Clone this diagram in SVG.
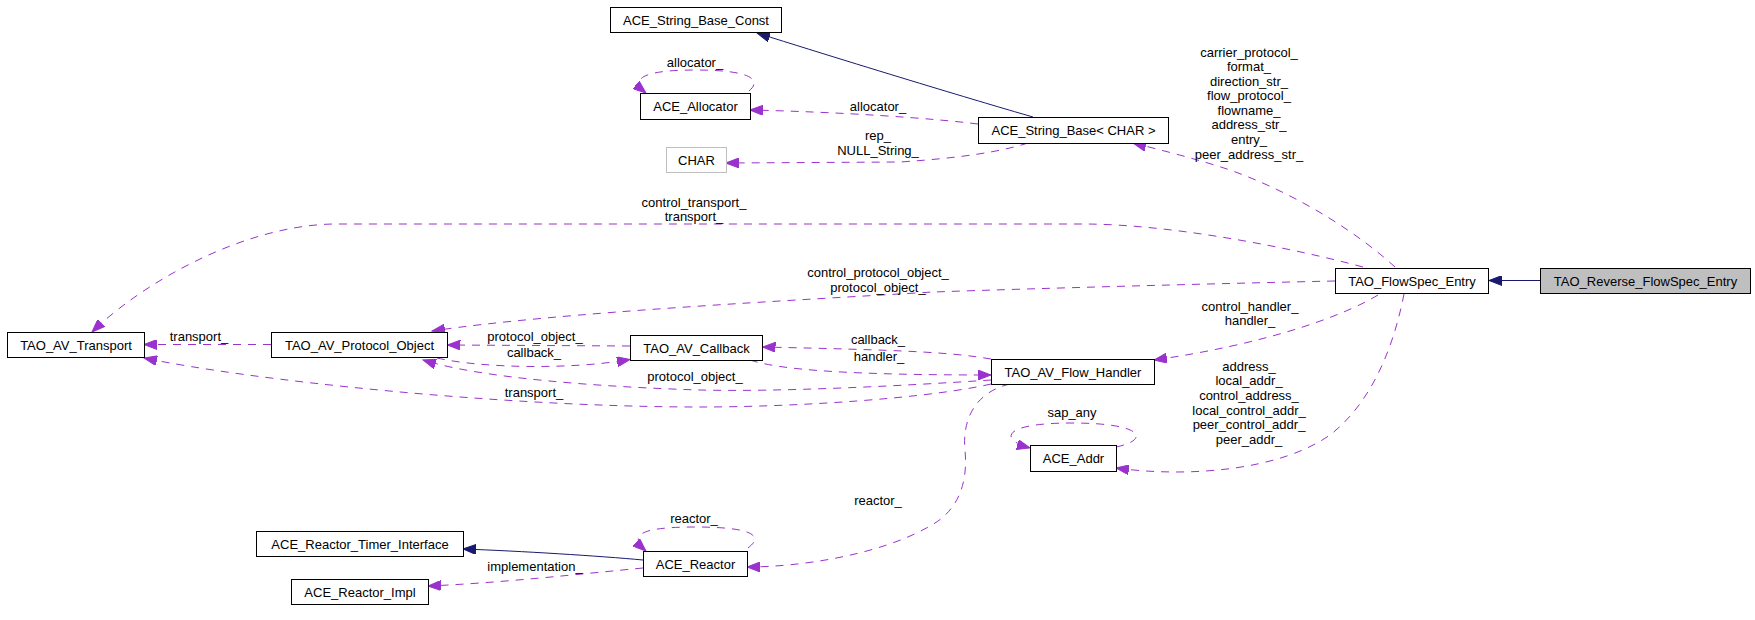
<svg xmlns="http://www.w3.org/2000/svg" width="1755" height="620" viewBox="0 0 1755 620">
<style>
  .node rect { fill: #ffffff; stroke: #000000; stroke-width: 1; }
  .node text, .lbl { font-family: "Liberation Sans", Arial, sans-serif; font-size: 13px; fill: #000000; text-anchor: middle; }
  .e { fill: none; stroke: #9a32cd; stroke-width: 1; stroke-dasharray: 8,7; marker-end: url(#ap); }
  .i { fill: none; stroke: #191970; stroke-width: 1; marker-end: url(#an); }
</style>
<defs>
  <marker id="ap" markerUnits="userSpaceOnUse" markerWidth="14" markerHeight="10" refX="13" refY="5" orient="auto">
    <path d="M0,0 L13,5 L0,10 z" fill="#9a32cd" stroke="#9a32cd" stroke-width="1"/>
  </marker>
  <marker id="an" markerUnits="userSpaceOnUse" markerWidth="14" markerHeight="10" refX="13" refY="5" orient="auto">
    <path d="M0,0 L13,5 L0,10 z" fill="#191970" stroke="#191970" stroke-width="1"/>
  </marker>
</defs>
<rect x="0" y="0" width="1755" height="620" fill="#ffffff"/>

<g id="connectors">
  <path class="i" d="M1540,280.5 L1489,280.5"/>
  <path class="i" d="M1033,117 C1005,109 900,78 757,33"/>
  <path class="e" d="M978,124 C930,118 840,112 750,110"/>
  <path class="e" d="M749,91 C762,80 752,70 695,70 C640,70 630,80 646,93"/>
  <path class="e" d="M1028,143 C1000,152 960,158 900,162 L726,163"/>
  <path class="e" d="M1395,267 C1360,235 1300,195 1230,170 C1200,160 1165,151 1133,143"/>
  <path class="e" d="M1363,267 C1300,250 1180,225 1087,224 L333,224 C240,226 140,285 92,332"/>
  <path class="e" d="M1335,281 C1200,284 1050,288 933,292 C800,300 560,312 432,331"/>
  <path class="e" d="M1378,295 C1340,318 1260,345 1154,360"/>
  <path class="e" d="M1404,294 C1395,340 1375,400 1330,435 C1280,470 1190,478 1116,468"/>
  <path class="e" d="M271,344.5 L144,344.5"/>
  <path class="e" d="M630,346 L447.5,345"/>
  <path class="e" d="M437,358 C480,368 570,370 630,359.5"/>
  <path class="e" d="M991,359 C950,352 900,350 762.5,347"/>
  <path class="e" d="M750,360 C780,370 850,375 991,375"/>
  <path class="e" d="M991,380 C900,386 780,392 700,390 C600,387 480,378 423,360"/>
  <path class="e" d="M991,384 C930,398 800,407 700,407 C500,407 250,380 144,358"/>
  <path class="e" d="M1010,384 C975,392 962,420 965,450 C968,480 960,510 930,526 C880,555 800,567 747,567"/>
  <path class="e" d="M748,548 C765,535 750,527 695,527 C640,527 628,535 646,551"/>
  <path class="i" d="M643,560 C600,556 520,551 463,549"/>
  <path class="e" d="M643,568 C580,574 500,583 428,586"/>
  <path class="e" d="M1116,447 C1150,440 1145,423 1072,423 C1000,423 1000,440 1030,448"/>

  <text class="lbl" x="695" y="67">allocator_</text>
  <text class="lbl" x="878" y="111">allocator_</text>
  <text class="lbl" x="878" y="140">rep_</text>
  <text class="lbl" x="878" y="155">NULL_String_</text>
  <text class="lbl" x="1249" y="56.5">carrier_protocol_</text>
  <text class="lbl" x="1249" y="71">format_</text>
  <text class="lbl" x="1249" y="85.5">direction_str_</text>
  <text class="lbl" x="1249" y="100">flow_protocol_</text>
  <text class="lbl" x="1249" y="114.5">flowname_</text>
  <text class="lbl" x="1249" y="129">address_str_</text>
  <text class="lbl" x="1249" y="144">entry_</text>
  <text class="lbl" x="1249" y="158.5">peer_address_str_</text>
  <text class="lbl" x="694" y="207">control_transport_</text>
  <text class="lbl" x="694" y="221">transport_</text>
  <text class="lbl" x="878" y="277">control_protocol_object_</text>
  <text class="lbl" x="878" y="292">protocol_object_</text>
  <text class="lbl" x="1250" y="311">control_handler_</text>
  <text class="lbl" x="1250" y="325">handler_</text>
  <text class="lbl" x="199" y="341">transport_</text>
  <text class="lbl" x="535" y="341">protocol_object_</text>
  <text class="lbl" x="534" y="357">callback_</text>
  <text class="lbl" x="878" y="343.5">callback_</text>
  <text class="lbl" x="879" y="361">handler_</text>
  <text class="lbl" x="695" y="380.5">protocol_object_</text>
  <text class="lbl" x="534" y="397">transport_</text>
  <text class="lbl" x="1249" y="371">address_</text>
  <text class="lbl" x="1249" y="385">local_addr_</text>
  <text class="lbl" x="1249" y="400">control_address_</text>
  <text class="lbl" x="1249" y="415">local_control_addr_</text>
  <text class="lbl" x="1249" y="429">peer_control_addr_</text>
  <text class="lbl" x="1249" y="444">peer_addr_</text>
  <text class="lbl" x="1072" y="417">sap_any</text>
  <text class="lbl" x="878" y="504.5">reactor_</text>
  <text class="lbl" x="694" y="523">reactor_</text>
  <text class="lbl" x="535" y="570.5">implementation_</text>
</g>

<g id="TAO_Reverse_FlowSpec_Entry" class="node"><rect x="1540.5" y="268.5" width="210" height="25" style="fill:#bfbfbf"/><text x="1645.5" y="285.5">TAO_Reverse_FlowSpec_Entry</text></g>
<g id="TAO_FlowSpec_Entry" class="node"><rect x="1335.5" y="268.5" width="153" height="25"/><text x="1412" y="285.5">TAO_FlowSpec_Entry</text></g>
<g id="ACE_String_Base_Const" class="node"><rect x="610.5" y="7.5" width="171" height="25"/><text x="696" y="24.5">ACE_String_Base_Const</text></g>
<g id="ACE_String_Base_CHAR" class="node"><rect x="978.5" y="117.5" width="190" height="26"/><text x="1073.5" y="135">ACE_String_Base&lt; CHAR &gt;</text></g>
<g id="ACE_Allocator" class="node"><rect x="640.5" y="93.5" width="110" height="26"/><text x="695.5" y="111">ACE_Allocator</text></g>
<g id="CHAR" class="node"><rect x="666.5" y="147.5" width="60" height="25" style="stroke:#bfbfbf"/><text x="696.5" y="164.5">CHAR</text></g>
<g id="TAO_AV_Transport" class="node"><rect x="7.5" y="332.5" width="137" height="25"/><text x="76" y="349.5">TAO_AV_Transport</text></g>
<g id="TAO_AV_Protocol_Object" class="node"><rect x="271.5" y="332.5" width="176" height="25"/><text x="359.5" y="349.5">TAO_AV_Protocol_Object</text></g>
<g id="TAO_AV_Callback" class="node"><rect x="630.5" y="335.5" width="132" height="25"/><text x="696.5" y="352.5">TAO_AV_Callback</text></g>
<g id="TAO_AV_Flow_Handler" class="node"><rect x="991.5" y="359.5" width="163" height="25"/><text x="1073" y="376.5">TAO_AV_Flow_Handler</text></g>
<g id="ACE_Addr" class="node"><rect x="1030.5" y="445.5" width="86" height="26"/><text x="1073.5" y="463">ACE_Addr</text></g>
<g id="ACE_Reactor_Timer_Interface" class="node"><rect x="256.5" y="531.5" width="207" height="25"/><text x="360" y="548.5">ACE_Reactor_Timer_Interface</text></g>
<g id="ACE_Reactor_Impl" class="node"><rect x="291.5" y="579.5" width="137" height="25"/><text x="360" y="596.5">ACE_Reactor_Impl</text></g>
<g id="ACE_Reactor" class="node"><rect x="643.5" y="551.5" width="104" height="25"/><text x="695.5" y="568.5">ACE_Reactor</text></g>
</svg>
